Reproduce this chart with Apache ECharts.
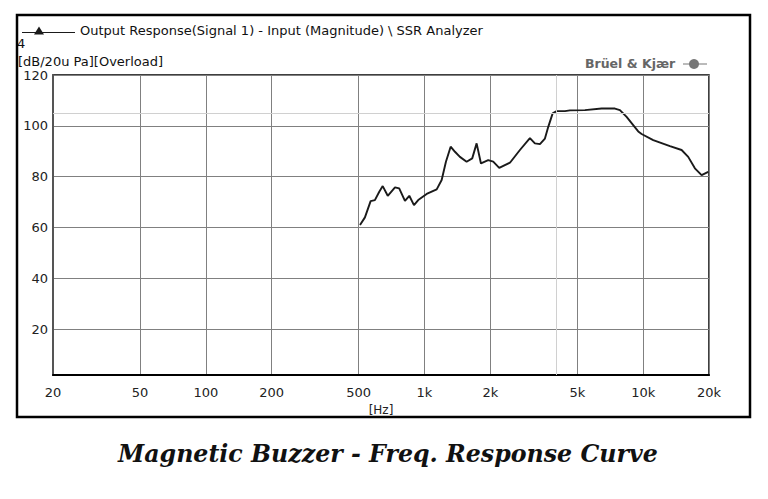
<!DOCTYPE html>
<html>
<head>
<meta charset="utf-8">
<script src="https://cdn.jsdelivr.net/npm/echarts@6/dist/echarts.min.js"></script>
<style>
html,body{margin:0;padding:0;background:#fff;}
#chart{width:768px;height:499px;}
</style>
</head>
<body>
<div id="chart"></div>
<script>
const freqHz = [507, 534, 567, 593, 621, 644, 679, 733, 766, 814, 852, 895, 936, 1023, 1137, 1198, 1253, 1317, 1378, 1452, 1558, 1653, 1731, 1812, 1956, 2062, 2196, 2459, 2731, 3034, 3198, 3372, 3554, 3681, 3855, 4022, 4389, 4624, 5415, 6457, 7427, 7828, 8400, 9003, 9494, 9838, 11116, 13254, 14988, 16069, 17240, 18503, 19834];
const levelDb = [61.0, 64.0, 70.4, 70.8, 74.1, 76.3, 72.5, 75.8, 75.4, 70.5, 72.5, 68.8, 70.8, 73.2, 75.0, 78.7, 85.9, 91.8, 89.8, 87.8, 85.9, 87.2, 93.1, 85.2, 86.5, 85.9, 83.5, 85.5, 90.5, 95.2, 93.1, 92.8, 95.0, 99.6, 104.9, 105.8, 105.8, 106.1, 106.2, 106.8, 106.8, 106.2, 103.5, 100.3, 97.8, 96.8, 94.4, 92.0, 90.5, 87.8, 83.3, 80.6, 81.9];
const xTickValues = [20, 50, 100, 200, 500, 1000, 2000, 5000, 10000, 20000];
const yTickValues = [20, 40, 60, 80, 100, 120];
const cursorFreq = 4000;
const cursorLevel = 105;
const seriesName = 'Output Response(Signal 1) - Input (Magnitude) \\ SSR Analyzer';

const chart = echarts.init(document.getElementById('chart'), null, {renderer: 'svg'});
const fmtHz = v => v >= 1000 ? (v / 1000) + 'k' : String(v);
const font = 'Tahoma, "DejaVu Sans", sans-serif';

chart.setOption({
  animation: false,
  backgroundColor: '#fff',
  grid: {left: 53, top: 75, right: 59, bottom: 124, show: true, borderColor: '#000', borderWidth: 1.5},
  legend: {
    left: 17, top: 19,
    data: [seriesName],
    icon: 'path://M0,6.5H53V7.5H0Z M17,1L22,9H12Z',
    itemWidth: 53, itemHeight: 10, itemGap: 5,
    textStyle: {fontFamily: font, fontSize: 13, color: '#111'}
  },
  xAxis: {
    type: 'log', logBase: 10, min: 20, max: 20000,
    name: '[Hz]', nameLocation: 'middle', nameGap: 28,
    nameTextStyle: {fontFamily: font, fontSize: 12, color: '#222'},
    axisLine: {show: true, lineStyle: {color: '#000', width: 2}},
    axisTick: {show: false, customValues: xTickValues},
    axisLabel: {customValues: xTickValues, formatter: fmtHz, margin: 11, fontFamily: font, fontSize: 13, color: '#222'},
    splitLine: {show: true, lineStyle: {color: '#808080', width: 1}},
    minorSplitLine: {show: false}
  },
  yAxis: {
    type: 'value', min: 2, max: 120,
    axisLine: {show: true, lineStyle: {color: '#555', width: 2}},
    axisTick: {show: false, customValues: yTickValues},
    axisLabel: {customValues: yTickValues, margin: 5, fontFamily: font, fontSize: 13, color: '#222'},
    splitLine: {show: true, lineStyle: {color: '#808080', width: 1}}
  },
  series: [{
    name: seriesName,
    type: 'line',
    data: freqHz.map((f, i) => [f, levelDb[i]]),
    showSymbol: false,
    symbol: 'none',
    lineStyle: {color: '#1a1a1a', width: 1.9},
    itemStyle: {color: '#1a1a1a'},
    markLine: {
      silent: true, symbol: 'none', label: {show: false},
      lineStyle: {color: '#d0d0d0', width: 1, type: 'solid'},
      data: [{xAxis: cursorFreq}, {yAxis: cursorLevel}]
    }
  }],
  graphic: [
    {type: 'rect', shape: {x: 17, y: 15, width: 733, height: 402}, style: {fill: 'none', stroke: '#000', lineWidth: 2.5}, z: 100},
    {type: 'text', left: 17, top: 37, style: {text: '4', fontFamily: font, fontSize: 13, fill: '#111'}},
    {type: 'text', left: 18, top: 55, style: {text: '[dB/20u Pa][Overload]', fontFamily: font, fontSize: 13, fill: '#111'}},
    {type: 'text', left: 585, top: 57, style: {text: 'Brüel & Kjær', fontFamily: '"DejaVu Sans", sans-serif', fontWeight: 'bold', fontSize: 12.5, fill: '#666'}},
    {type: 'line', shape: {x1: 683, y1: 64, x2: 707, y2: 64}, style: {stroke: '#777', lineWidth: 1}},
    {type: 'circle', shape: {cx: 694, cy: 64, r: 5}, style: {fill: '#777'}},
    {type: 'text', left: 118, top: 442, style: {text: 'Magnetic Buzzer - Freq. Response Curve', fontFamily: '"DejaVu Serif", serif', fontWeight: 'bold', fontStyle: 'italic', fontSize: 23.7, fill: '#111'}}
  ]
});
</script>
</body>
</html>
